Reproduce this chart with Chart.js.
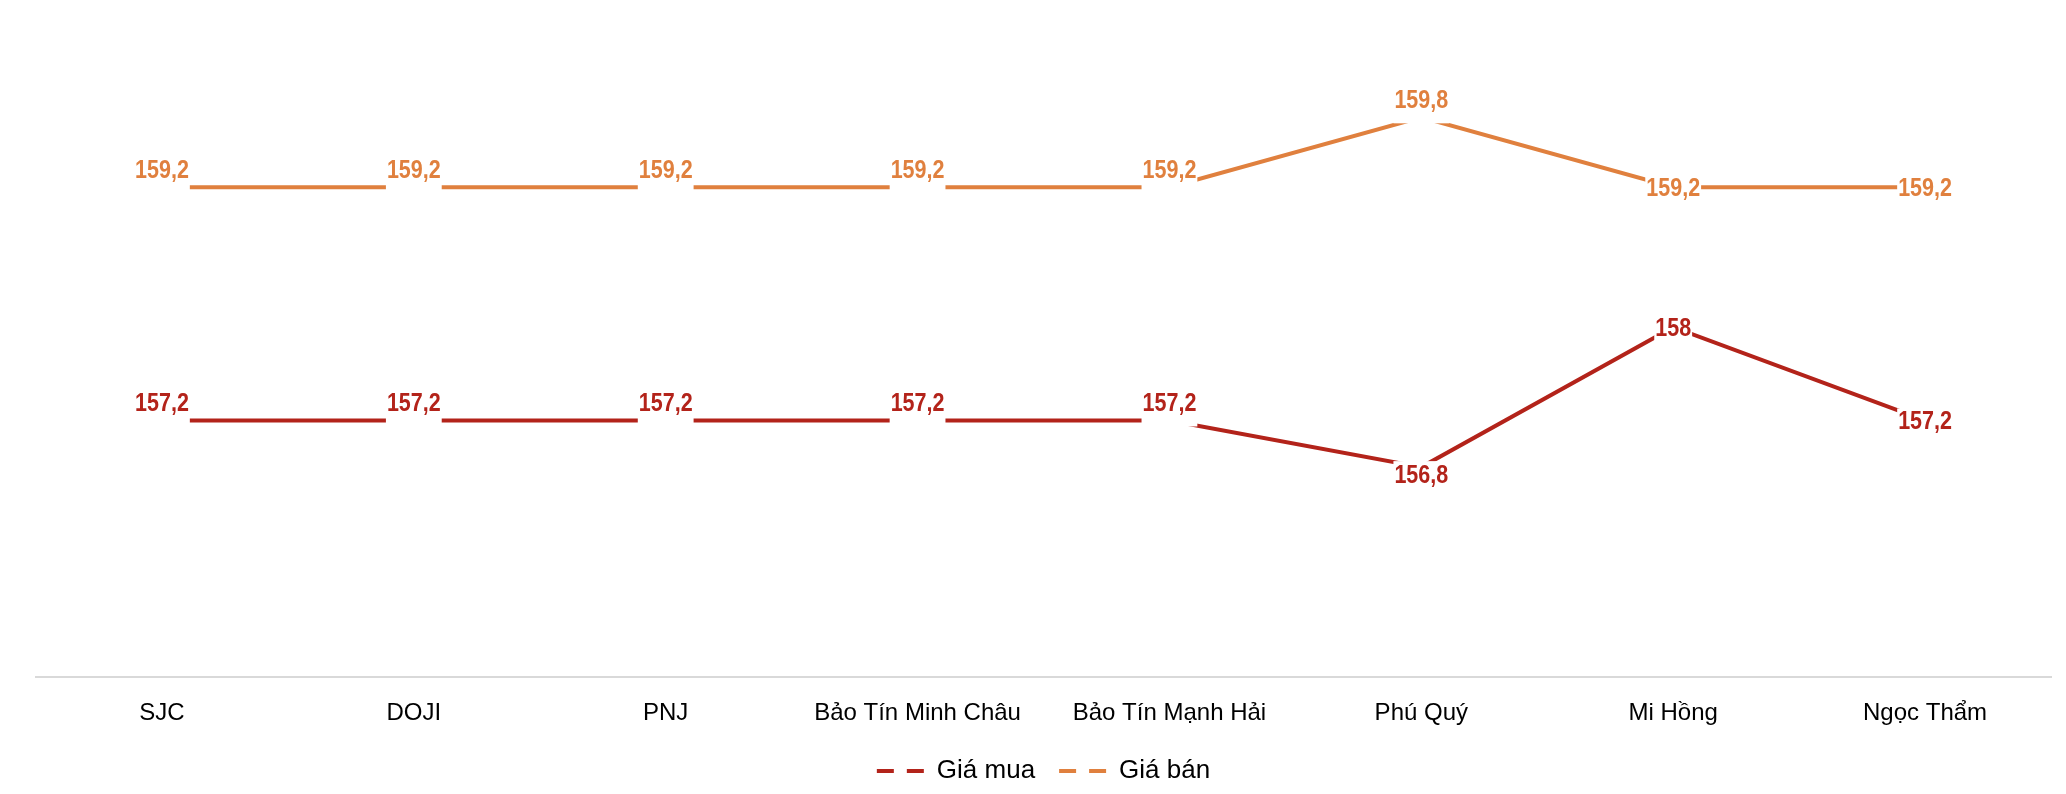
<!DOCTYPE html>
<html>
<head>
<meta charset="utf-8">
<script src="https://cdn.jsdelivr.net/npm/chart.js@4.4.1/dist/chart.umd.min.js"></script>
<style>
  html, body { margin: 0; padding: 0; background: #ffffff; }
  #wrap { width: 2066px; height: 794px; position: relative; }
</style>
</head>
<body>
<div id="wrap"><canvas id="c"></canvas></div>
<script>
// ---- data ----
const categories = ['SJC', 'DOJI', 'PNJ', 'Bảo Tín Minh Châu', 'Bảo Tín Mạnh Hải', 'Phú Quý', 'Mi Hồng', 'Ngọc Thẩm'];
const giaMua = [157.2, 157.2, 157.2, 157.2, 157.2, 156.8, 158, 157.2];
const giaBan = [159.2, 159.2, 159.2, 159.2, 159.2, 159.8, 159.2, 159.2];
const seriesNames = ['Giá mua', 'Giá bán'];

// ---- label placement (layout only) ----
const muaLabelPos = ['above', 'above', 'above', 'above', 'above', 'below', 'center', 'center'];
const banLabelPos = ['above', 'above', 'above', 'above', 'above', 'above', 'center', 'center'];

const RED = '#B3231A';
const ORANGE = '#E0803E';
const LABEL_FONT = 'bold 25px "Liberation Sans", Arial, sans-serif';
const LABEL_SX = 0.86;

const labelPlugin = {
  id: 'valueLabels',
  afterDatasetsDraw(chart) {
    const ctx = chart.ctx;
    ctx.save();
    ctx.font = LABEL_FONT;
    ctx.textAlign = 'center';
    ctx.textBaseline = 'middle';
    chart.data.datasets.forEach((ds, di) => {
      const meta = chart.getDatasetMeta(di);
      const placement = ds.labelPos;
      meta.data.forEach((pt, i) => {
        const txt = String(ds.data[i]).replace('.', ',');
        const pos = placement[i];
        let cy;
        if (pos === 'above') cy = pt.y - 17;
        else if (pos === 'below') cy = pt.y + 8;
        else cy = pt.y + 1;
        const w = ctx.measureText(txt).width * LABEL_SX;
        const top = Math.min(cy - 13, pt.y - 6);
        const bottom = Math.max(cy + 13, pt.y + 6);
        ctx.fillStyle = '#ffffff';
        ctx.fillRect(pt.x - w / 2 - 1, top, w + 2, bottom - top);
        ctx.save();
        ctx.translate(pt.x, cy + 1);
        ctx.scale(LABEL_SX, 1);
        ctx.fillStyle = ds.borderColor;
        ctx.fillText(txt, 0, 0);
        ctx.restore();
      });
    });
    ctx.restore();
  }
};

new Chart(document.getElementById('c'), {
  type: 'line',
  data: {
    labels: categories,
    datasets: [
      { label: seriesNames[0], data: giaMua, borderColor: RED, backgroundColor: RED, borderWidth: 4, pointRadius: 0, tension: 0, labelPos: muaLabelPos },
      { label: seriesNames[1], data: giaBan, borderColor: ORANGE, backgroundColor: ORANGE, borderWidth: 4, pointRadius: 0, tension: 0, labelPos: banLabelPos }
    ]
  },
  options: {
    responsive: true,
    maintainAspectRatio: false,
    animation: false,
    devicePixelRatio: 1,
    layout: { padding: { top: 94, left: 36, right: 15, bottom: 0 } },
    scales: {
      x: {
        offset: true,
        grid: { display: false, drawTicks: false },
        border: { display: true, color: '#d9d9d9', width: 2 },
        ticks: { color: '#000000', padding: 22, font: { family: '"Liberation Sans", Arial, sans-serif', size: 24 }, maxRotation: 0, autoSkip: false },
        afterFit(scale) { scale.height = 57; }
      },
      y: {
        display: false,
        min: 155,
        max: 160
      }
    },
    plugins: {
      tooltip: { enabled: false },
      legend: {
        position: 'bottom',
        labels: {
          usePointStyle: true,
          pointStyleWidth: 47,
          padding: 24,
          color: '#000000',
          font: { family: '"Liberation Sans", Arial, sans-serif', size: 26 },
          generateLabels(chart) {
            return chart.data.datasets.map((ds, i) => ({
              text: ds.label,
              fillStyle: ds.borderColor,
              strokeStyle: ds.borderColor,
              lineWidth: 4,
              lineDash: [17, 13],
              lineDashOffset: 0,
              pointStyle: 'line',
              hidden: false,
              datasetIndex: i,
              fontColor: '#000000'
            }));
          }
        }
      }
    }
  },
  plugins: [labelPlugin]
});
</script>
</body>
</html>
